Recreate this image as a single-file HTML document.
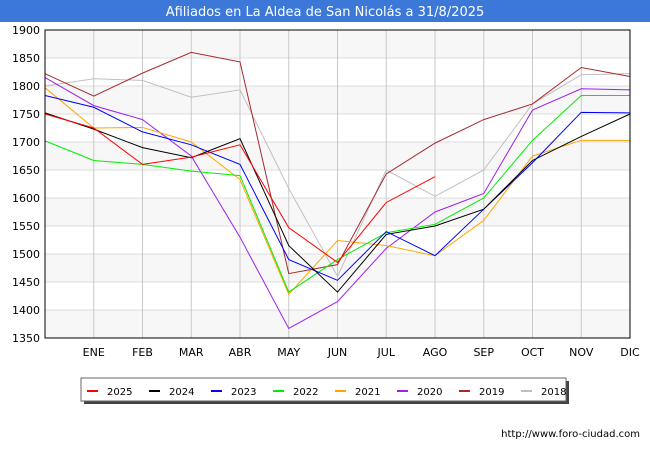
<!DOCTYPE html>
<html><head><meta charset="utf-8"><style>
body{margin:0;width:650px;height:450px;background:#fff;font-family:"Liberation Sans","DejaVu Sans",sans-serif;overflow:hidden}
</style></head><body>
<svg width="650" height="450" xmlns="http://www.w3.org/2000/svg">
<rect x="0" y="0" width="650" height="22" fill="#3c78d8"/>
<text x="325" y="16" fill="#fff" font-size="13" text-anchor="middle" font-family="DejaVu Sans, sans-serif">Afiliados en La Aldea de San Nicolás a 31/8/2025</text>
<g id="bands"></g><g id="grid"></g><g id="series"></g><g id="axes"></g>
<rect x="45" y="30" width="585" height="308" fill="none" stroke="#000" stroke-width="1"/>
<g id="legend">
<rect x="84" y="381" width="485" height="23" fill="#444"/>
<rect x="81" y="378" width="485" height="23" fill="#fff" stroke="#666"/>
</g>
<text x="640" y="437" font-size="10" text-anchor="end" font-family="DejaVu Sans, sans-serif">http://www.foro-ciudad.com</text>
</svg>
<script>
const months = ["","ENE","FEB","MAR","ABR","MAY","JUN","JUL","AGO","SEP","OCT","NOV","DIC"];
const yTicks = [1350,1400,1450,1500,1550,1600,1650,1700,1750,1800,1850,1900];
const seriesNames = ["2025","2024","2023","2022","2021","2020","2019","2018"];
const seriesColors = ["#ff0000","#000000","#0000ff","#00ee00","#ffa500","#a020f0","#a52a2a","#c0c0c0"];
const s2025 = [1750,1725,1660,1673,1695,1547,1485,1592,1638];
const s2024 = [1752,1723,1690,1672,1706,1515,1432,1535,1550,1580,1667,1710,1750];
const s2023 = [1783,1762,1718,1695,1660,1490,1453,1540,1497,1580,1663,1753,1752];
const s2022 = [1702,1667,1660,1648,1640,1432,1490,1538,1553,1600,1703,1783,1783];
const s2021 = [1797,1725,1726,1700,1633,1428,1524,1515,1497,1560,1675,1703,1703];
const s2020 = [1815,1765,1740,1675,1530,1367,1415,1510,1575,1608,1757,1795,1793];
const s2019 = [1822,1782,1823,1860,1843,1465,1481,1643,1698,1740,1768,1833,1817];
const s2018 = [1800,1813,1810,1780,1793,1617,1460,1650,1603,1650,1768,1820,1822];
const seriesData = [s2025,s2024,s2023,s2022,s2021,s2020,s2019,s2018];
const NS="http://www.w3.org/2000/svg";
const x0=45,x1=630,y0=338,y1=30,ymin=1350,ymax=1900;
const X=i=>x0+i*(x1-x0)/12;
const Y=v=>y0-(v-ymin)*(y0-y1)/(ymax-ymin);
function mk(t,a,p){const e=document.createElementNS(NS,t);for(const k in a)e.setAttribute(k,a[k]);p.appendChild(e);return e;}
const bands=document.getElementById('bands'),grid=document.getElementById('grid'),axes=document.getElementById('axes'),ser=document.getElementById('series'),leg=document.getElementById('legend');
for(let i=0;i<yTicks.length-1;i++){ if(i%2===0){const r=mk('rect',{x:x0,y:Y(yTicks[i+1]),width:x1-x0,height:Y(yTicks[i])-Y(yTicks[i+1]),fill:'#f7f7f7'},bands);

}}
yTicks.forEach(v=>{const l=mk('line',{x1:x0,x2:x1,y1:Y(v),y2:Y(v),stroke:'#dddddd'},grid);


const t=mk('text',{x:40,y:Y(v)+4,'font-size':11,'text-anchor':'end','font-family':'DejaVu Sans, sans-serif'},axes);t.textContent=v;

});
months.forEach((m,i)=>{if(i===0)return;const l=mk('line',{x1:X(i),x2:X(i),y1:y1,y2:y0,stroke:'#c8c8c8'},grid);


const t=mk('text',{x:X(i),y:356,'font-size':11,'text-anchor':'middle','font-family':'DejaVu Sans, sans-serif'},axes);t.textContent=m;

});
for(let s=seriesData.length-1;s>=0;s--){const d=seriesData[s];
const p=mk('polyline',{points:d.map((v,i)=>X(i)+','+Y(v)).join(' '),fill:'none',stroke:seriesColors[s],'stroke-width':1},ser);

}
seriesNames.forEach((n,s)=>{const lx=87+s*62;
const l=mk('line',{x1:lx,x2:lx+11,y1:391,y2:391,stroke:seriesColors[s],'stroke-width':2},leg);


const t=mk('text',{x:lx+20,y:395,'font-size':10,'font-family':'DejaVu Sans, sans-serif'},leg);t.textContent=n;

});
</script>
</body></html>
